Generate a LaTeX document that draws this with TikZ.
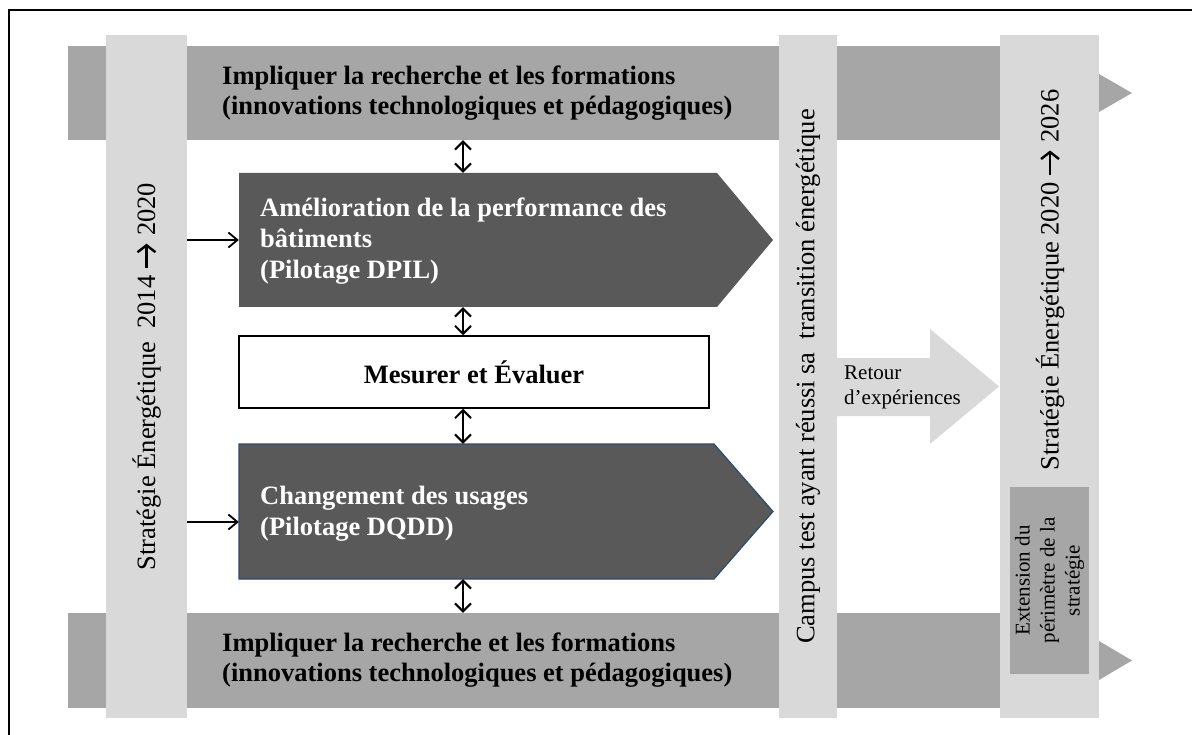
\documentclass[tikz,border=0pt]{standalone}
\usepackage{fontspec}
\setmainfont{Liberation Serif}
\usetikzlibrary{arrows.meta,calc}
\definecolor{barG}{HTML}{A6A6A6}
\definecolor{colG}{HTML}{D9D9D9}
\definecolor{darkG}{HTML}{595959}
\definecolor{navyB}{HTML}{2F4B6E}
\newcommand{\thickarr}{\tikz[baseline=0pt,x=1pt,y=1pt]\draw[line width=2.4pt,-{Straight Barb[length=7pt,width=18pt]}] (0,8.5) -- (24,8.5);}
\begin{document}
\begin{tikzpicture}[x=1pt,y=-1pt,
  barbox/.style={fill=barG, draw=none, inner sep=0pt},
  colbox/.style={fill=colG, draw=none, inner sep=0pt},
  bigtxt/.style={font=\fontsize{26.5}{25.5}\selectfont, inner sep=0pt},
  boldtxt/.style={font=\fontsize{26.5}{30}\selectfont\bfseries, inner sep=0pt, align=left},
  whitetxt/.style={font=\fontsize{26.5}{31}\selectfont\bfseries, text=white, inner sep=0pt, align=left},
  smalltxt/.style={font=\fontsize{21}{25}\selectfont, inner sep=0pt},
  dblarrow/.style={line width=2pt, {Straight Barb[length=8pt,width=16pt]}-{Straight Barb[length=8pt,width=16pt]}},
  inarrow/.style={line width=1.8pt, -{Straight Barb[length=9pt,width=15pt]}},
  tri/.style={fill=barG, draw=none}
]
\useasboundingbox (0,0) rectangle (1192,735);
% frame
\draw[line width=2pt] (9,745) -- (9,10) -- (1200,10);

% horizontal bars
\node[barbox, minimum width=1031pt, minimum height=94pt] (topbar) at (583.5,93) {};
\fill[tri] (1099,74) -- (1132,93) -- (1099,112) -- cycle;
\node[barbox, minimum width=1031pt, minimum height=95pt] (botbar) at (583.5,660.5) {};
\fill[tri] (1099,641) -- (1132,660.5) -- (1099,680) -- cycle;

% vertical columns
\node[colbox, minimum width=81pt, minimum height=683pt] (lcol) at (146.5,376.5) {};
\node[colbox, minimum width=58pt, minimum height=683pt] (mcol) at (808,376.5) {};
\node[colbox, minimum width=99pt, minimum height=683pt] (rcol) at (1049.5,376.5) {};

\node[bigtxt, rotate=90] (ltxt) at (146.5,376.5) {Stratégie Énergétique\ \ 2014 \thickarr\ 2020};
\node[bigtxt, rotate=90] (mtxt) at (808,376.5) {Campus test ayant réussi sa\ \ transition énergétique};
\node[bigtxt, rotate=90] (rtxt) at (1050,280) {Stratégie Énergétique 2020 \thickarr\ 2026};

% extension box
\node[barbox, minimum width=79pt, minimum height=187pt] (ext) at (1049.5,580.5) {};
\node[smalltxt, rotate=90, align=center] (exttxt) at (1049.5,580.5) {Extension du\\périmètre de la\\stratégie};

% bar texts
\node[boldtxt, anchor=west] (toptxt) at (222,93) {Impliquer la recherche et les formations\\(innovations technologiques et pédagogiques)};
\node[boldtxt, anchor=west] (bottxt) at (222,660.5) {Impliquer la recherche et les formations\\(innovations technologiques et pédagogiques)};

% retour arrow
\fill[colG] (837,358) -- (930,358) -- (930,329) -- (999,386.5) -- (930,444) -- (930,416) -- (837,416) -- cycle;
\node[smalltxt, anchor=west, align=left] (rettxt) at (844,387.5) {Retour\\d’expériences};

% dark boxes
\fill[darkG] (239,173) -- (717,173) -- (773,240) -- (717,307) -- (239,307) -- cycle;
\node[inner sep=0pt, minimum width=478pt, minimum height=134pt] (amel) at (478,240) {};
\node[whitetxt, anchor=west] (ameltxt) at (260,241) {Amélioration de la performance des\\bâtiments\\(Pilotage DPIL)};

\filldraw[fill=darkG, draw=navyB, line width=1.2pt] (239,444) -- (714,444) -- (773,511.5) -- (714,579) -- (239,579) -- cycle;
\node[inner sep=0pt, minimum width=475pt, minimum height=135pt] (chg) at (476.5,511.5) {};
\node[whitetxt, anchor=west] (chgtxt) at (260,514) {Changement des usages\\(Pilotage DQDD)};

% measure box
\node[draw=black, line width=1.5pt, fill=white, minimum width=470pt, minimum height=72pt, inner sep=0pt,
      font=\fontsize{26.5}{25.5}\selectfont\bfseries] (mes) at (474,372) {Mesurer et Évaluer};

% connectors
\coordinate (ax) at (463,0);
\coordinate (a2) at (0,522);
\draw[dblarrow] (ax |- topbar.south) -- (ax |- amel.north);
\draw[dblarrow] (ax |- amel.south) -- (ax |- mes.north);
\draw[dblarrow] (ax |- mes.south) -- (ax |- chg.north);
\draw[dblarrow] (ax |- chg.south) -- (ax |- botbar.north);
\draw[inarrow] (lcol.east |- amel.west) -- (amel.west);
\draw[inarrow] (lcol.east |- a2) -- (chg.west |- a2);
\end{tikzpicture}
\end{document}
